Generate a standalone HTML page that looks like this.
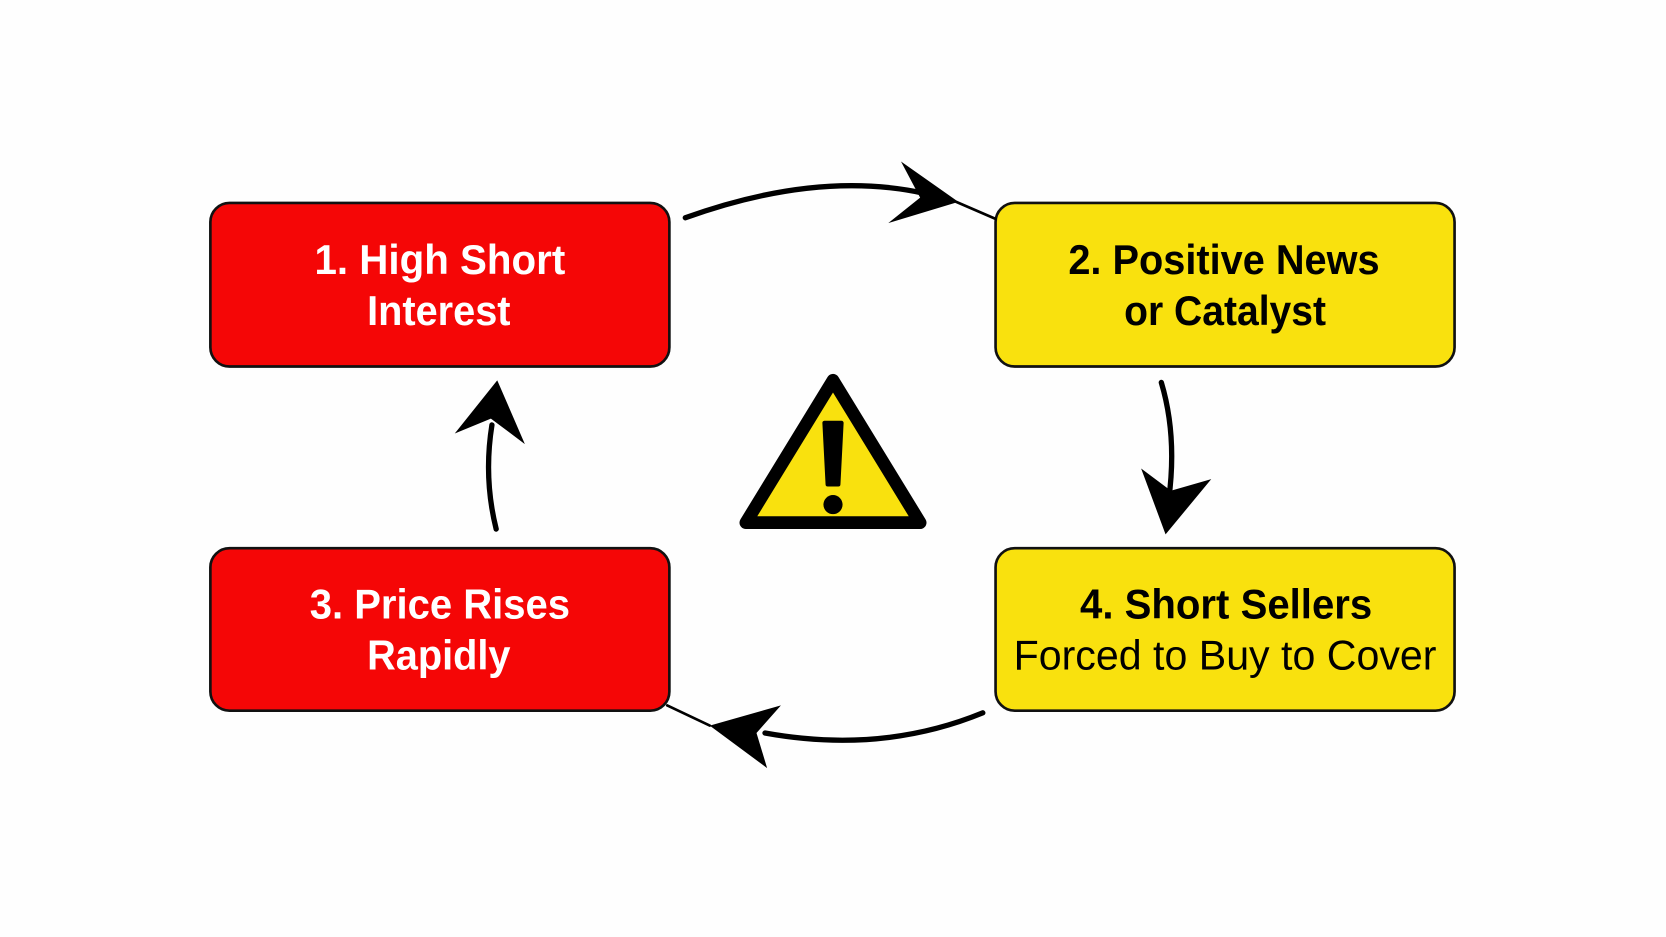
<!DOCTYPE html>
<html><head><style>html,body{margin:0;padding:0;background:#fefefe;}svg{display:block}</style></head>
<body>
<svg width="1666" height="937" viewBox="0 0 1568 882" preserveAspectRatio="none" xmlns="http://www.w3.org/2000/svg">
<rect width="1568" height="882" fill="#fefefe"/>
<g stroke="#111" stroke-width="2.5">
<rect x="198" y="191" width="432" height="154" rx="18" fill="#f50606"/>
<rect x="937" y="191" width="432" height="154" rx="18" fill="#f9e10e"/>
<rect x="198" y="516" width="432" height="153" rx="18" fill="#f50606"/>
<rect x="937" y="516" width="432" height="153" rx="18" fill="#f9e10e"/>
</g>
<g font-family="Liberation Sans, Arial, sans-serif" font-size="39" text-anchor="middle">
<text x="414" y="258" fill="#fff" font-weight="bold" textLength="236" lengthAdjust="spacingAndGlyphs">1. High Short</text>
<text x="413" y="306" fill="#fff" font-weight="bold" textLength="135" lengthAdjust="spacingAndGlyphs">Interest</text>
<text x="1152" y="258" fill="#000" font-weight="bold" textLength="293" lengthAdjust="spacingAndGlyphs">2. Positive News</text>
<text x="1153" y="306" fill="#000" font-weight="bold" textLength="190" lengthAdjust="spacingAndGlyphs">or Catalyst</text>
<text x="414" y="582" fill="#fff" font-weight="bold" textLength="245" lengthAdjust="spacingAndGlyphs">3. Price Rises</text>
<text x="413" y="630" fill="#fff" font-weight="bold" textLength="135" lengthAdjust="spacingAndGlyphs">Rapidly</text>
<text x="1154" y="582" fill="#000" font-weight="bold" textLength="275" lengthAdjust="spacingAndGlyphs">4. Short Sellers</text>
<text x="1153" y="630" fill="#000" textLength="398" lengthAdjust="spacingAndGlyphs">Forced to Buy to Cover</text>
</g>
<g fill="none" stroke="#000" stroke-width="5" stroke-linecap="round">
<path d="M645,205 Q770,160 870,182"/>
<path d="M900,190 L937,206" stroke-width="2.5"/>
<path d="M1093,360 Q1108,410 1100,470"/>
<path d="M925,671 Q830,710 720,690"/>
<path d="M668,683 L628,664" stroke-width="2.5"/>
<path d="M467,498 Q455,450 463,400"/>
</g>
<g fill="#000">
<polygon points="902,190 848,152 866,186 836,210"/>
<polygon points="1097,503 1074,441 1102,462 1140,451"/>
<polygon points="668,683 722,723 712,690 735,664"/>
<polygon points="468,358 428,408 462,394 494,418"/>
</g>
<path d="M784,358 L866,492 L702,492 Z" fill="#f9e10e" stroke="#000" stroke-width="12" stroke-linejoin="round"/>
<path d="M776,398 L792,398 L789,456 L779,456 Z" fill="#000" stroke="#000" stroke-width="4" stroke-linejoin="round"/>
<circle cx="784" cy="475" r="9" fill="#000"/>
</svg>
</body></html>
